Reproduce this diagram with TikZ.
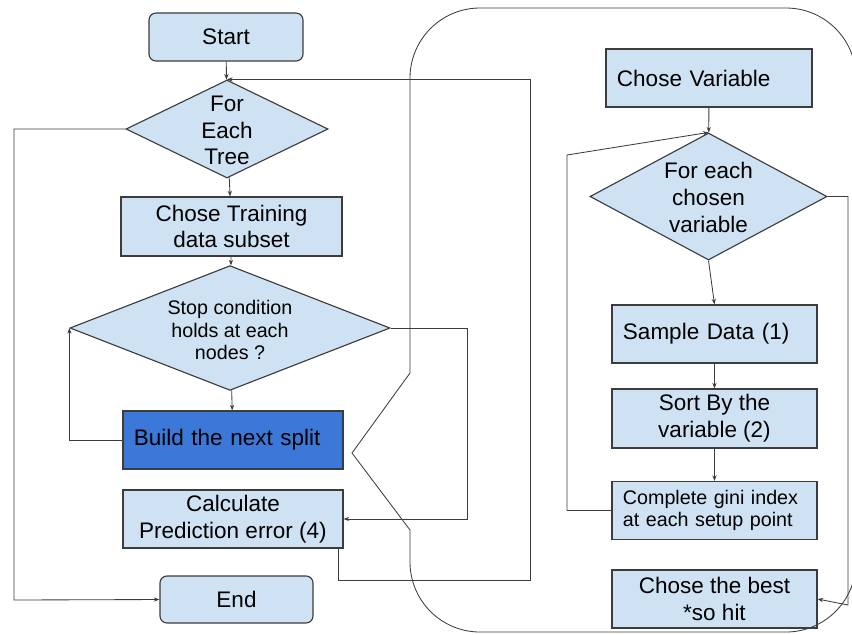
\documentclass[tikz,border=0pt]{standalone}
\usepackage{fontspec}
\setmainfont{Liberation Sans}
\usetikzlibrary{shapes.geometric,arrows.meta}

\begin{document}
\begin{tikzpicture}[x=0.025cm, y=-0.025cm,
    process/.style={rectangle, draw=boxline, fill=boxfill, line width=0.8pt, inner sep=0pt,
        minimum height=1.45cm, align=center, font=\fontsize{16}{19}\selectfont},
    leftproc/.style={process, align=left, inner xsep=0.275cm, text width=#1},
    terminal/.style={process, rounded corners=5pt, minimum height=1.2cm},
    decision/.style={diamond, draw=boxline, fill=boxfill, line width=0.8pt, inner sep=0pt,
        font=\fontsize{16}{19}\selectfont},
    flow/.style={draw=flowline, line width=0.6pt, -{Stealth[length=4pt, width=3pt]}},
    panel/.style={draw=flowline, line width=0.6pt}]
        \definecolor{boxfill}{RGB}{207,226,243}
        \definecolor{splitblue}{RGB}{60,120,216}
        \definecolor{boxline}{RGB}{60,60,60}
        \definecolor{flowline}{RGB}{60,60,60}

        \useasboundingbox (0,0) rectangle (852,634);

        % Outer loop: one tree after the other
        \node[terminal, minimum width=3.85cm] (start) at (226,37) {Start};
        \node[decision, minimum width=5.05cm, minimum height=2.45cm] (tree) at (227,129)
            {\smash{\raisebox{-7pt}{\begin{tabular}{@{}c@{}}For\\Each\\Tree\end{tabular}}}};
        \node[process, minimum width=5.525cm, minimum height=1.475cm] (subset) at (231.5,226.5) {Chose Training\\data subset};
        \node[decision, minimum width=8cm, minimum height=2.625cm, font=\fontsize{14}{16}\selectfont] (stop) at (230,328)
            {\smash{\raisebox{-7pt}{\begin{tabular}{@{}c@{}}Stop condition\\holds at each\\nodes ?\end{tabular}}}};
        \node[leftproc=4.95cm, fill=splitblue] (split) at (233,440) {Build the next split};
        \node[process, minimum width=5.5cm] (error) at (233,519) {Calculate\\Prediction error (4)};
        \node[terminal, minimum width=3.825cm, minimum height=1.175cm] (finish) at (236.5,599.5) {End};

        % Inner loop: searching the split of one node
        \node[leftproc=4.6cm] (chosevar) at (709,78) {Chose Variable};
        \node[decision, minimum width=5.925cm, minimum height=3.175cm] (eachvar) at (708.5,196.5)
            {\smash{\raisebox{-7pt}{\begin{tabular}{@{}c@{}}For each\\chosen\\variable\end{tabular}}}};
        \node[leftproc=4.575cm] (sample) at (714.5,334) {Sample Data (1)};
        \node[process, minimum width=5.125cm, minimum height=1.475cm] (sortvar) at (714.5,418.5) {Sort By the\\variable (2)};
        \node[leftproc=4.575cm, font=\fontsize{14}{16}\selectfont] (gini) at (714.5,510.5) {Complete gini index\\at each setup point};
        \node[process, minimum width=5.125cm] (best) at (714.5,599) {Chose the best\\*so hit};

        % Frame round the inner loop, with the notch on its left side
        \draw[panel, rounded corners=1.75cm] (410,530) -- (410,632) -- (856,632) -- (856,8) -- (410,8) -- (410,373);
        \draw[panel] (410,373) -- (352,453) -- (410,530);

        % Bend points
        \coordinate (outer-left) at (14,600);
        \coordinate (ret-low) at (530,580);
        \coordinate (stop-right) at (467,519);
        \coordinate (gini-left) at (567,155);
        \coordinate (each-right) at (848,605);

        % Left column
        \draw[flow] (start) -- (tree);
        \draw[flow] (tree) -- (subset);
        \draw[flow] (subset) -- (stop);
        \draw[flow] (stop) -- (split);
        \draw[flow] (split.west) -| (stop.west);
        \draw[flow] (stop.east) -| (stop-right) -- (error.east);
        \draw[flow] (tree.west) -| (outer-left) -- (finish.west);
        \draw[flow] ([xshift=-0.125cm]error.south east) |- (ret-low) |- (tree.north);

        % Right column
        \draw[flow] (chosevar) -- (eachvar);
        \draw[flow] (eachvar.south) -- (sample.north);
        \draw[flow] (sample) -- (sortvar);
        \draw[flow] (sortvar) -- (gini);
        \draw[flow] (gini.west) -| (gini-left) -- (eachvar.north);
        \draw[flow] (eachvar.east) -| (each-right) -- (best.east);
    \end{tikzpicture}
\end{document}
